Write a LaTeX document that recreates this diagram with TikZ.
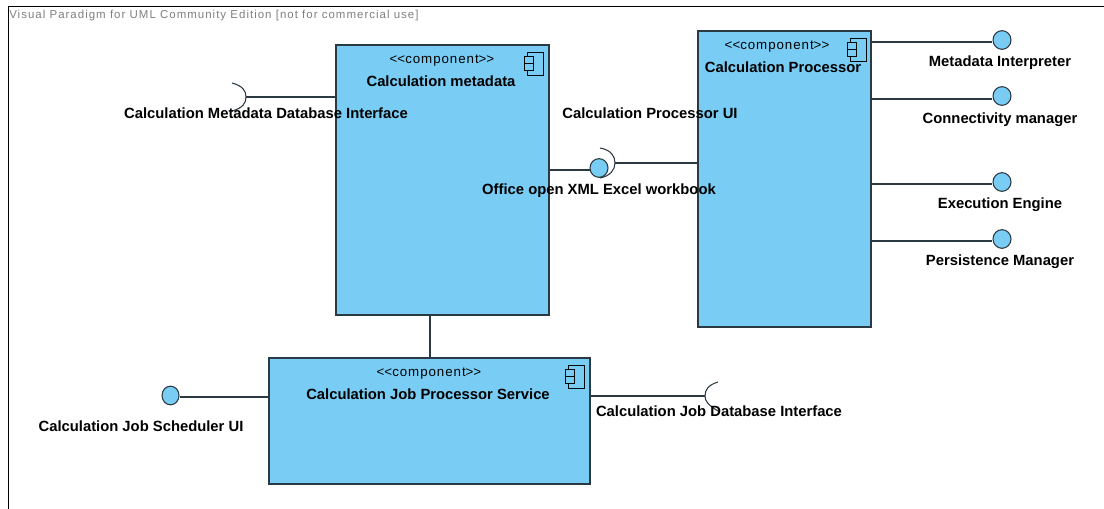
\documentclass[tikz,border=0pt]{standalone}
\usepackage{fontspec}
\setmainfont{Liberation Sans}
\usetikzlibrary{shapes.geometric}
\definecolor{compfill}{HTML}{79CDF5}
\definecolor{edge}{HTML}{2B3A42}
\newfontfamily\stereofont[Ligatures=NoCommon,LetterSpace=7]{Liberation Sans}
\newfontfamily\hdrfont[LetterSpace=8.9]{Liberation Sans}
\tikzset{
  x=0.75pt,y=-0.75pt,
  compbox/.style={draw=edge,fill=compfill,line width=0.9pt,rectangle,inner sep=0pt},
  ball/.style={draw=edge,fill=compfill,line width=0.8pt,ellipse,inner sep=0pt,minimum width=13.5pt,minimum height=14pt},
  wire/.style={draw=edge,line width=0.8pt},
  title/.style={font=\bfseries\fontsize{11.1pt}{13pt}\selectfont,inner sep=0pt,text=black},
  stereo/.style={font=\stereofont\fontsize{10pt}{11pt}\selectfont,inner sep=0pt,text=black},
  hdr/.style={font=\hdrfont\fontsize{8.6pt}{10pt}\selectfont,inner sep=0pt,text=black!50,anchor=west},
  iconpart/.style={draw=black!85!edge,line width=0.7pt,fill=compfill},
}
\newcommand{\compicon}[2]{%
  \draw[iconpart] (#1+3,#2) rectangle (#1+19,#2+23);
  \draw[iconpart] (#1,#2+4) rectangle (#1+9,#2+11);
  \draw[iconpart] (#1,#2+11) rectangle (#1+9,#2+18);
}
\newcommand{\stereotext}{\mbox{<}\mbox{<}component\mbox{>}\mbox{>}}
\begin{document}
\begin{tikzpicture}
\useasboundingbox (0,0) rectangle (1104,509);
\fill[white] (0,0) rectangle (1104,509);
\draw[black,line width=0.8pt] (1104,6.5) -- (8.5,6.5) -- (8.5,509);
\node[hdr] (header) at (9,16) {Visual Paradigm for UML Community Edition [not for commercial use]};

% components
\node[compbox,minimum width=159.75pt,minimum height=202.5pt] (meta) at (442.5,180) {};
\node[compbox,minimum width=129.75pt,minimum height=222pt] (proc) at (784.5,179) {};
\node[compbox,minimum width=240.75pt,minimum height=94.5pt] (job) at (429.5,421) {};

\compicon{524}{52}
\compicon{847}{38}
\compicon{565}{365}

% lollipop balls
\node[ball] (bInterp) at (1002,40) {};
\node[ball] (bConn) at (1002,96) {};
\node[ball] (bExec) at (1002,182) {};
\node[ball] (bPers) at (1002,239) {};
\node[ball,minimum width=12.75pt] (bSched) at (170.5,395.5) {};

% sockets ends
\coordinate (sMeta) at (246,97);
\coordinate (sXml) at (615,163);
\coordinate (sJob) at (705,396);

% connectors
\draw[wire] (meta.west |- sMeta) -- (sMeta);
\draw[wire] (232,83) .. controls (243,86) and (246,91) .. (sMeta) .. controls (246,103) and (243,108) .. (232,111);
\draw[wire] (job.east |- sJob) -- (sJob);
\draw[wire] (718,382) .. controls (708,385) and (705,390) .. (sJob) .. controls (705,401) and (708,405) .. (718,411);
\draw[wire] (proc.west |- sXml) -- (sXml);
\draw[wire] (600,148) .. controls (611,150) and (615,156) .. (sXml) .. controls (615,170) and (610,176) .. (600,178);
\coordinate (bXmlW) at (590,170);
\draw[wire] (meta.east |- bXmlW) -- (bXmlW);
\node[ball] (bXml) at (599,168) {};
\draw[wire] (proc.east |- 0,42) -- (bInterp.west |- 0,42);
\draw[wire] (proc.east |- 0,99) -- (bConn.west |- 0,99);
\draw[wire] (proc.east |- 0,184) -- (bExec.west |- 0,184);
\draw[wire] (proc.east |- 0,241) -- (bPers.west |- 0,241);
\draw[wire] (bSched.east |- 0,397) -- (job.west |- 0,397);
\draw[wire] (meta.south -| 430,0) -- (job.north -| 430,0);

% texts
\node[stereo] (tm1) at (442,61) {\stereotext};
\node[title] (tm2) at (441,81.5) {Calculation metadata};
\node[stereo] (tp1) at (777,47) {\stereotext};
\node[title] (tp2) at (783,67.5) {Calculation Processor};
\node[stereo] (tj1) at (429,374) {\stereotext};
\node[title] (tj2) at (428,394.5) {Calculation Job Processor Service};
\node[title] (l1) at (266,113.5) {Calculation Metadata Database Interface};
\node[title] (l2) at (650,113.5) {Calculation Processor UI};
\node[title] (l3) at (599,190.5) {Office open XML Excel workbook};
\node[title] (l4) at (1000,62.5) {Metadata Interpreter};
\node[title] (l5) at (1000,119.5) {Connectivity manager};
\node[title] (l6) at (1000,204.5) {Execution Engine};
\node[title] (l7) at (1000,261.5) {Persistence Manager};
\node[title] (l8) at (141,426.5) {Calculation Job Scheduler UI};
\node[title] (l9) at (719,411.5) {Calculation Job Database Interface};
\end{tikzpicture}
\end{document}
